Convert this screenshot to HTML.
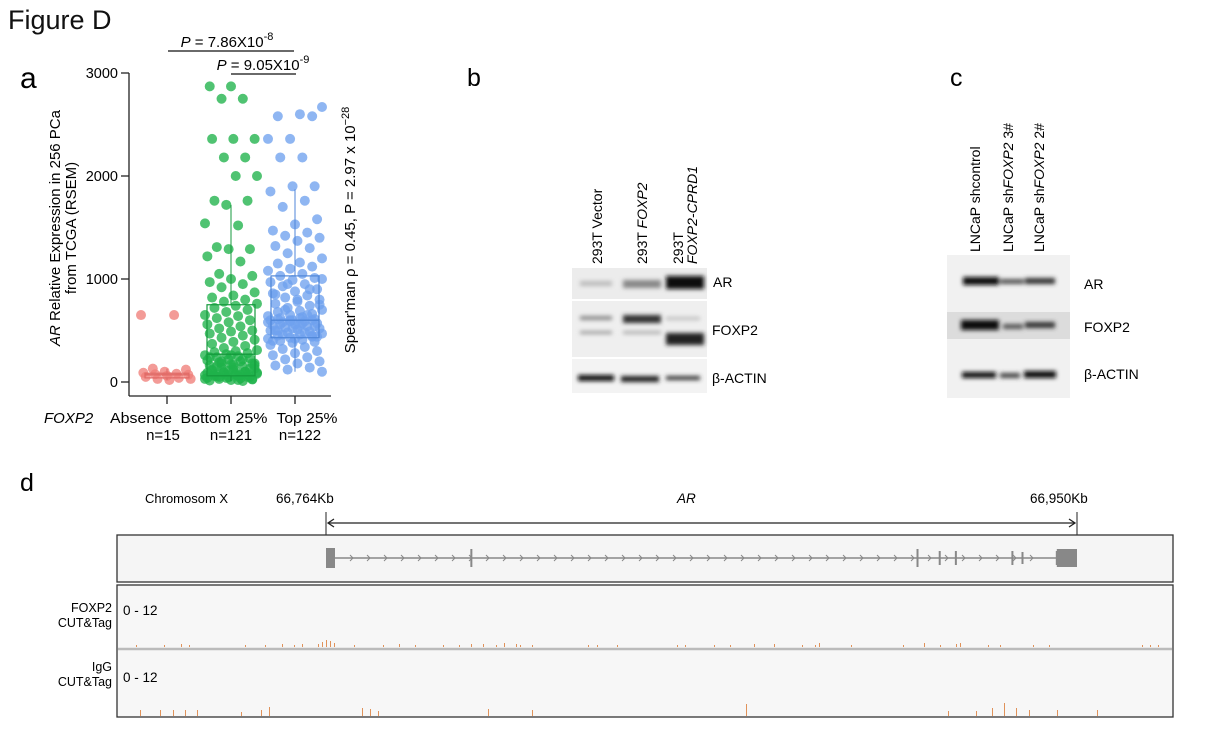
<!DOCTYPE html>
<html><head><meta charset="utf-8"><style>
body{margin:0;background:#fff;}
svg{display:block;font-family:"Liberation Sans",Arial,sans-serif;}
</style></head><body>
<svg id="fig" width="1213" height="735" viewBox="0 0 1213 735">
<defs>
<filter id="blur" x="-20%" y="-100%" width="140%" height="300%"><feGaussianBlur stdDeviation="2.2"/></filter>
</defs>
<text x="8" y="29" font-size="27" fill="#111">Figure D</text>
<text x="20" y="88" font-size="30">a</text>
<text x="467" y="86" font-size="25">b</text>
<text x="950" y="86" font-size="25">c</text>
<text x="20" y="491" font-size="25">d</text>

<g id="panelA">
  <line x1="168" y1="51" x2="294" y2="51" stroke="#111" stroke-width="1.2"/>
  <text x="227" y="47" font-size="15" text-anchor="middle"><tspan font-style="italic">P</tspan> = 7.86X10<tspan dy="-7" font-size="11">-8</tspan></text>
  <line x1="231" y1="74" x2="296" y2="74" stroke="#111" stroke-width="1.2"/>
  <text x="263" y="70" font-size="15" text-anchor="middle"><tspan font-style="italic">P</tspan> = 9.05X10<tspan dy="-7" font-size="11">-9</tspan></text>
  <text transform="translate(60,228) rotate(-90)" font-size="15" text-anchor="middle"><tspan font-style="italic">AR</tspan> Relative Expression in 256 PCa</text>
  <text transform="translate(76,228) rotate(-90)" font-size="15" text-anchor="middle">from TCGA (RSEM)</text>
  <text transform="translate(355,230) rotate(-90)" font-size="15" text-anchor="middle">Spear'man ρ = 0.45, P = 2.97 x 10<tspan dy="-6" font-size="11">−28</tspan></text>
</g>

<g>
  <rect x="572" y="268" width="135" height="31" fill="#ececec"/>
  <rect x="572" y="301" width="135" height="56" fill="#efefef"/>
  <rect x="572" y="359" width="135" height="34" fill="#f3f3f3"/>
  <g filter="url(#blur)">
    <rect x="580" y="281" width="32" height="5" fill="#bbb"/>
    <rect x="623" y="280" width="38" height="8" fill="#888"/>
    <rect x="666" y="276" width="38" height="13" fill="#111"/>
    <rect x="580" y="316" width="32" height="4" fill="#888"/>
    <rect x="623" y="315" width="38" height="8" fill="#333"/>
    <rect x="666" y="317" width="34" height="3" fill="#bbb"/>
    <rect x="580" y="331" width="32" height="3" fill="#999"/>
    <rect x="623" y="331" width="38" height="3" fill="#aaa"/>
    <rect x="666" y="333" width="38" height="12" fill="#222"/>
    <rect x="578" y="375" width="36" height="6" fill="#111"/>
    <rect x="621" y="376" width="38" height="6" fill="#222"/>
    <rect x="666" y="376" width="34" height="4" fill="#333"/>
  </g>
  <text transform="translate(602,264) rotate(-90)" font-size="14">293T Vector</text>
  <text transform="translate(647,264) rotate(-90)" font-size="14">293T <tspan font-style="italic">FOXP2</tspan></text>
  <text transform="translate(683,264) rotate(-90)" font-size="14">293T</text>
  <text transform="translate(697,264) rotate(-90)" font-size="14" font-style="italic">FOXP2-CPRD1</text>
  <text x="713" y="287" font-size="14">AR</text>
  <text x="712" y="335" font-size="14">FOXP2</text>
  <text x="712" y="383" font-size="14">β-ACTIN</text>
</g>

<g>
  <rect x="947" y="255" width="123" height="143" fill="#f1f1f1"/>
  <rect x="947" y="312" width="123" height="27" fill="#dcdcdc"/>
  <g filter="url(#blur)">
    <rect x="963" y="277" width="36" height="8" fill="#111"/>
    <rect x="1000" y="279" width="24" height="5" fill="#555"/>
    <rect x="1025" y="278" width="30" height="6" fill="#333"/>
    <rect x="961" y="320" width="38" height="10" fill="#111"/>
    <rect x="1003" y="324" width="20" height="5" fill="#555"/>
    <rect x="1025" y="322" width="30" height="6" fill="#333"/>
    <rect x="962" y="372" width="34" height="6" fill="#111"/>
    <rect x="1000" y="373" width="20" height="5" fill="#444"/>
    <rect x="1024" y="371" width="32" height="7" fill="#111"/>
  </g>
  <text transform="translate(980,252) rotate(-90)" font-size="14">LNCaP shcontrol</text>
  <text transform="translate(1013,252) rotate(-90)" font-size="14">LNCaP sh<tspan font-style="italic">FOXP2</tspan>  3#</text>
  <text transform="translate(1044,252) rotate(-90)" font-size="14">LNCaP sh<tspan font-style="italic">FOXP2</tspan> 2#</text>
  <text x="1084" y="289" font-size="14">AR</text>
  <text x="1084" y="332" font-size="14">FOXP2</text>
  <text x="1084" y="379" font-size="14">β-ACTIN</text>
</g>

<g id="panelD">
  <text x="145" y="503" font-size="13">Chromosom X</text>
  <text x="276" y="503" font-size="13.5">66,764Kb</text>
  <text x="677" y="503" font-size="13.5" font-style="italic">AR</text>
  <text x="1030" y="503" font-size="13.5">66,950Kb</text>
  <line x1="326" y1="512" x2="326" y2="535" stroke="#222"/>
  <line x1="1077" y1="512" x2="1077" y2="535" stroke="#222"/>
  <line x1="328" y1="523" x2="1075" y2="523" stroke="#222" stroke-width="1.3"/>
  <path d="M334,519 L328,523 L334,527 M1069,519 L1075,523 L1069,527" fill="none" stroke="#222" stroke-width="1.3"/>
  <rect x="117" y="535" width="1056" height="47" fill="#f5f5f5" stroke="#333" stroke-width="1.3"/>
  <rect x="117" y="585" width="1056" height="132" fill="#f7f7f7" stroke="#333" stroke-width="1.3"/>
  <line x1="118" y1="649" x2="1172" y2="649" stroke="#bbb" stroke-width="2.5"/>
  <text x="112" y="612" font-size="12.5" text-anchor="end">FOXP2</text>
  <text x="112" y="627" font-size="12.5" text-anchor="end">CUT&amp;Tag</text>
  <text x="123" y="615" font-size="13.5">0 - 12</text>
  <text x="112" y="671" font-size="12.5" text-anchor="end">IgG</text>
  <text x="112" y="686" font-size="12.5" text-anchor="end">CUT&amp;Tag</text>
  <text x="123" y="682" font-size="13.5">0 - 12</text>
</g>
</svg>
<script>
// ---------- Panel A data ----------
const groups = ["Absence", "Bottom 25%", "Top 25%"];
const groupCounts = ["n=15", "n=121", "n=122"];
const yTicks = [0, 1000, 2000, 3000];
const absenceVals = [650,650,130,120,100,90,80,75,70,60,50,40,30,30,20];
const bottomVals = [2870,2870,2750,2750,2360,2360,2360,2180,2180,2000,2000,1760,1760,1720,1540,1520,1310,1290,1290,1220,1170,1050,1030,1000,970,950,920,870,840,820,800,780,760,740,720,700,680,650,640,620,600,580,560,540,520,500,490,470,450,430,410,390,370,350,330,310,300,290,280,270,260,250,240,230,220,210,200,190,180,170,160,150,140,130,120,110,100,95,90,85,80,75,70,65,60,55,50,45,40,35,30,25,20,15,10,180,160,140,120,100,90,80,70,60,50,40,30,20,150,130,110,90,70,50,30,260,240,220,200,180,170];
const topVals = [2670,2600,2580,2580,2360,2360,2180,2180,1900,1900,1850,1760,1700,1580,1530,1470,1450,1420,1400,1370,1320,1300,1250,1200,1160,1150,1120,1100,1080,1050,1030,1010,990,970,950,930,900,880,860,840,820,800,780,760,740,720,700,690,680,660,650,640,630,620,610,600,600,590,580,570,560,550,540,530,520,510,500,490,480,470,460,450,440,430,420,410,400,390,380,360,340,320,300,280,260,240,220,200,180,160,140,120,100,620,610,600,590,580,570,560,540,520,500,480,460,440,420,400,650,700,750,800,850,900,950,1000,550,500,450,600];
const boxQ1 = [40, 60, 430];
const boxMed = [70, 270, 600];
const boxQ3 = [85, 750, 1030];
const whiskLo = [20, 10, 100];
const whiskHi = [130, 1720, 1870];

const NS = "http://www.w3.org/2000/svg";
const A = document.getElementById("panelA");
const y0 = 382, yTop = 73, vMax = 3000;
function yScale(v){ return y0 - (v / vMax) * (y0 - yTop); }
function xScale(i){ return 167 + i * 64; }
function mk(tag, attrs, parent){
  const e = document.createElementNS(NS, tag);
  for (const k in attrs) e.setAttribute(k, attrs[k]);
  parent.appendChild(e);
  return e;
}
const yAxis = mk("line", {x1:129, y1:yTop, x2:129, y2:396, stroke:"#222", "stroke-width":1.3}, A);


const xAxis = mk("line", {x1:129, y1:396, x2:331, y2:396, stroke:"#222", "stroke-width":1.3}, A);


yTicks.forEach(t => {
  const ty = yScale(t);
  const tk = mk("line", {x1:121, y1:ty, x2:129, y2:ty, stroke:"#222", "stroke-width":1.3}, A);
  
  
  const tl = mk("text", {x:118, y:ty+5, "font-size":14.5, "text-anchor":"end"}, A);
  tl.textContent = t;
  
  
});
const fx = mk("text", {x:44, y:423, "font-size":15, "font-style":"italic"}, A);
fx.textContent = "FOXP2";


const labelDx = [-26, -7, 12];
const labelLen = [62, 87, 61];
const countDx = [-4, 0, 5];
groups.forEach((g, i) => {
  const cx = xScale(i);
  const tk = mk("line", {x1:cx, y1:396, x2:cx, y2:404, stroke:"#222", "stroke-width":1.3}, A);
  
  
  const gl = mk("text", {x:cx+labelDx[i], y:423, "font-size":15, "text-anchor":"middle", textLength:labelLen[i], lengthAdjust:"spacingAndGlyphs"}, A);
  gl.textContent = g;
  
  
  const nl = mk("text", {x:cx+countDx[i], y:440, "font-size":15, "text-anchor":"middle"}, A);
  nl.textContent = groupCounts[i];
  
  
});
const colors = ["#ef7f7a", "#1fb24a", "#6fa2ee"];
const widths = [52, 52, 54];
[absenceVals, bottomVals, topVals].forEach((vals, gi) => {
  vals.forEach((v, i) => {
    const off = (((i * 37 + gi * 11) % 23) / 22 - 0.5) * widths[gi];
    const c = mk("circle", {cx:xScale(gi)+off, cy:yScale(v), r:5, fill:colors[gi], "fill-opacity":0.78}, A);
    
    
  });
  const cx = xScale(gi), bw = gi === 0 ? 44 : 48;
  const stroke = gi === 0 ? "#e06a66" : (gi === 1 ? "#159a3c" : "#4f86d8");
  const box = mk("rect", {x:cx-bw/2, y:yScale(boxQ3[gi]), width:bw, height:yScale(boxQ1[gi])-yScale(boxQ3[gi]), fill:"none", stroke:stroke, "stroke-width":1.2}, A);
  
  
  const med = mk("line", {x1:cx-bw/2, y1:yScale(boxMed[gi]), x2:cx+bw/2, y2:yScale(boxMed[gi]), stroke:stroke, "stroke-width":1.4}, A);
  
  
  const w1 = mk("line", {x1:cx, y1:yScale(boxQ3[gi]), x2:cx, y2:yScale(whiskHi[gi]), stroke:stroke}, A);
  
  
  const w2 = mk("line", {x1:cx, y1:yScale(boxQ1[gi]), x2:cx, y2:yScale(whiskLo[gi]), stroke:stroke}, A);
  
  
});

// ---------- Panel D data ----------
const D = document.getElementById("panelD");
const geneStartX = 326, geneEndX = 1077, kbStart = 66764, kbEnd = 66950;
function xKb(kb){ return geneStartX + (kb - kbStart) / (kbEnd - kbStart) * (geneEndX - geneStartX); }
const exonKb = [66764.5, 66800, 66910.5, 66916, 66920, 66934, 66936.5, 66945, 66949, 66947.5];
const exonH = [20, 18, 18, 14, 14, 14, 12, 14, 14, 14];
const foxp2PeakKb = [66717,66724,66728,66730,66744,66749,66753,66756,66758,66762,66763,66764,66765,66766,66771,66778,66782,66786,66793,66797,66800,66803,66806,66808,66811,66812,66815,66829,66831,66836,66851,66853,66860,66864,66870,66875,66882,66885,66886,66894,66907,66912,66916,66920,66921,66928,66931,66939,66943,66966,66968,66970,66973];
const foxp2PeakH = [2,2,3,2,2,2,3,2,3,3,5,7,6,4,2,2,3,2,2,2,3,3,2,4,3,2,2,2,2,2,2,2,2,2,3,3,2,2,4,2,2,4,2,3,4,2,2,2,2,2,2,2,2];
const iggPeakKb = [66686,66718,66723,66726,66729,66732,66743,66748,66750,66773,66775,66777,66804,66815,66868,66918,66925,66929,66932,66935,66938,66945,66955];
const iggPeakH = [8,6,6,6,6,6,4,6,9,8,7,5,7,6,12,5,5,8,13,8,6,6,6];
const intron = mk("line", {x1:xKb(66764.5), y1:558, x2:xKb(66946), y2:558, stroke:"#888", "stroke-width":1.5}, D);


for (let x = 350; x < 1040; x += 17) {
  const ch = mk("path", {d:`M${x},555 L${x+3},558 L${x},561`, fill:"none", stroke:"#888", "stroke-width":1}, D);
  
  
}
exonKb.forEach((kb, i) => {
  const ex = mk("rect", {x:xKb(kb)-1, y:558-exonH[i]/2, width:2, height:exonH[i], fill:"#888"}, D);
  
  
});
const utr5 = mk("rect", {x:xKb(kbStart), y:548, width:9, height:20, fill:"#888"}, D);


const utr3 = mk("rect", {x:xKb(66945), y:549, width:xKb(kbEnd)-xKb(66945), height:18, fill:"#888"}, D);


function peaks(kbs, hs, base, track){
  kbs.forEach((kb, i) => {
    const px = Math.round(xKb(kb)) + 0.5;
    if (px < 120 || px > 1170) return;
    const p = mk("line", {x1:px, y1:base, x2:px, y2:base - hs[i], stroke:"#e0925a", "stroke-width":1}, D);
    
    
  });
}
peaks(foxp2PeakKb, foxp2PeakH, 647, 'foxp2');
peaks(iggPeakKb, iggPeakH, 716, 'igg');
</script>
</body></html>
